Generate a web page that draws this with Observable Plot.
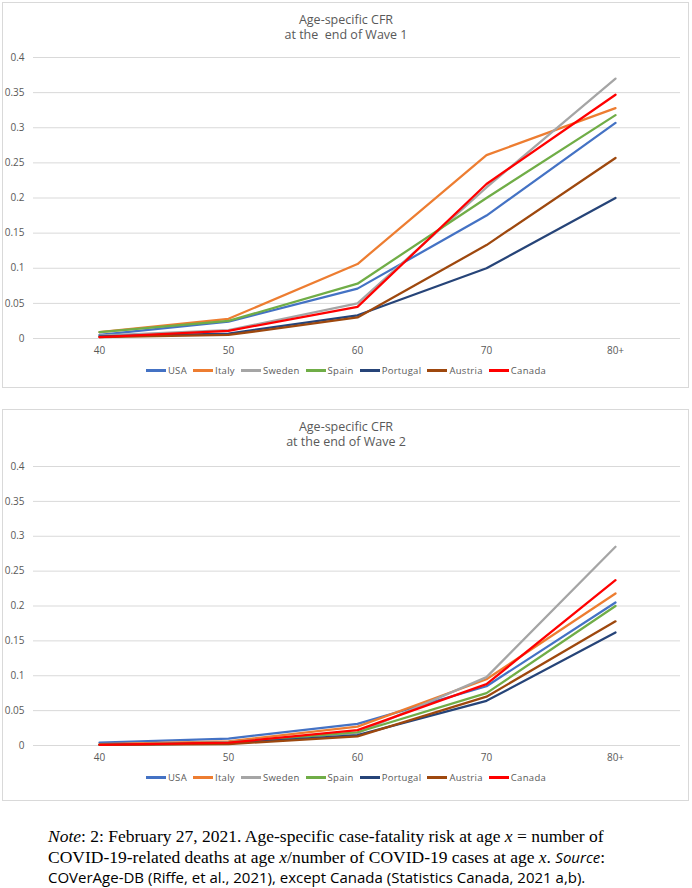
<!DOCTYPE html>
<html><head><meta charset="utf-8">
<script src="https://cdn.jsdelivr.net/npm/d3@7"></script>
<script src="https://cdn.jsdelivr.net/npm/@observablehq/plot@0.6"></script>
<style>
body{margin:0;width:692px;height:888px;position:relative;background:#fff;font-family:"Open Sans",sans-serif;overflow:hidden;}
.box{position:absolute;left:2px;width:687px;border:1px solid #d9d9d9;box-sizing:border-box;}
.title{position:absolute;left:0;width:692px;text-align:center;color:#595959;font-size:12.5px;line-height:15px;white-space:pre;}
.chart{position:absolute;left:0;}
.legend{position:absolute;left:0;width:692px;display:flex;justify-content:center;gap:6px;font-size:9.5px;color:#595959;letter-spacing:0.3px;}
.legend span{display:flex;align-items:center;}
.legend i{display:inline-block;width:20px;height:2.5px;margin-right:2px;}
.caption{position:absolute;left:48px;top:826px;width:644px;font-family:"Liberation Serif",serif;font-size:17.5px;line-height:20.5px;color:#000;white-space:nowrap;}
.caption .sans{font-family:"Open Sans",sans-serif;font-size:15px;}
</style></head>
<body>
<div class="box" style="top:2px;height:386px;"></div>
<div class="box" style="top:409px;height:392px;"></div>
<div class="title" style="top:12px;">Age-specific CFR
at the  end of Wave 1</div>
<div class="title" style="top:419px;">Age-specific CFR
at the end of Wave 2</div>
<div id="c1" class="chart" style="top:45px;"></div>
<div id="c2" class="chart" style="top:454px;"></div>
<div id="l1" class="legend" style="top:364px;"></div>
<div id="l2" class="legend" style="top:771px;"></div>
<div class="caption"><i>Note</i>: 2: February 27, 2021. Age-specific case-fatality risk at age <i>x</i> = number of<br>COVID-19-related deaths at age <i>x</i>/number of COVID-19 cases at age <i>x</i>. <span class="sans"><i>Source</i></span>:<br><span class="sans">COVerAge-DB (Riffe, et al., 2021), except Canada (Statistics Canada, 2021 a,b).</span></div>
<script>
const ages = ["40", "50", "60", "70", "80+"];
const countries = ["USA", "Italy", "Sweden", "Spain", "Portugal", "Austria", "Canada"];
const colors = ["#4472C4", "#ED7D31", "#A5A5A5", "#70AD47", "#264478", "#9E480E", "#FF0000"];
const yTicks = [0, 0.05, 0.1, 0.15, 0.2, 0.25, 0.3, 0.35, 0.4];
const yTickLabels = ["0", "0.05", "0.1", "0.15", "0.2", "0.25", "0.3", "0.35", "0.4"];

// Wave 1
const w1USA      = [0.005, 0.024, 0.071, 0.175, 0.307];
const w1Italy    = [0.009, 0.028, 0.106, 0.261, 0.328];
const w1Sweden   = [0.004, 0.012, 0.050, 0.215, 0.370];
const w1Spain    = [0.009, 0.025, 0.078, 0.200, 0.318];
const w1Portugal = [0.003, 0.007, 0.033, 0.100, 0.200];
const w1Austria  = [0.002, 0.005, 0.030, 0.133, 0.257];
const w1Canada   = [0.002, 0.011, 0.045, 0.220, 0.347];

// Wave 2
const w2USA      = [0.004, 0.010, 0.031, 0.085, 0.205];
const w2Italy    = [0.002, 0.006, 0.027, 0.095, 0.218];
const w2Sweden   = [0.001, 0.005, 0.018, 0.098, 0.285];
const w2Spain    = [0.001, 0.004, 0.019, 0.075, 0.200];
const w2Portugal = [0.001, 0.003, 0.015, 0.064, 0.162];
const w2Austria  = [0.001, 0.002, 0.013, 0.070, 0.178];
const w2Canada   = [0.001, 0.004, 0.022, 0.088, 0.237];

const wave1 = [w1USA, w1Italy, w1Sweden, w1Spain, w1Portugal, w1Austria, w1Canada];
const wave2 = [w2USA, w2Italy, w2Sweden, w2Spain, w2Portugal, w2Austria, w2Canada];

function chart(series, height) {
  return Plot.plot({
    width: 692, height,
    marginLeft: 33, marginRight: 12, marginTop: 12, marginBottom: 24,
    style: {fontFamily: "'Open Sans', sans-serif", fontSize: "10px", color: "#595959", background: "transparent"},
    x: {type: "point", domain: ages, padding: 0.5, label: null},
    y: {domain: [0, 0.4], label: null},
    marks: [
      Plot.gridY(yTicks, {stroke: "#d9d9d9", strokeOpacity: 1, strokeWidth: 1}),
      Plot.axisY(yTicks, {tickSize: 0, tickPadding: 9, label: null, tickFormat: (d) => yTickLabels[yTicks.indexOf(d)]}),
      Plot.axisX({tickSize: 0, tickPadding: 8, label: null}),
      ...series.map((vals, i) => Plot.line(ages.map((a, j) => ({age: a, v: vals[j]})), {
        x: "age", y: "v", stroke: colors[i], strokeWidth: 2.25, strokeLinejoin: "round"
      }))
    ]
  });
}

document.getElementById("c1").append(chart(wave1, 317));
document.getElementById("c2").append(chart(wave2, 315));

for (const id of ["l1", "l2"]) {
  const el = document.getElementById(id);
  countries.forEach((c, i) => {
    const s = document.createElement("span");
    s.innerHTML = `<i style="background:${colors[i]}"></i>${c}`;
    el.append(s);
  });
}
</script>
</body></html>
